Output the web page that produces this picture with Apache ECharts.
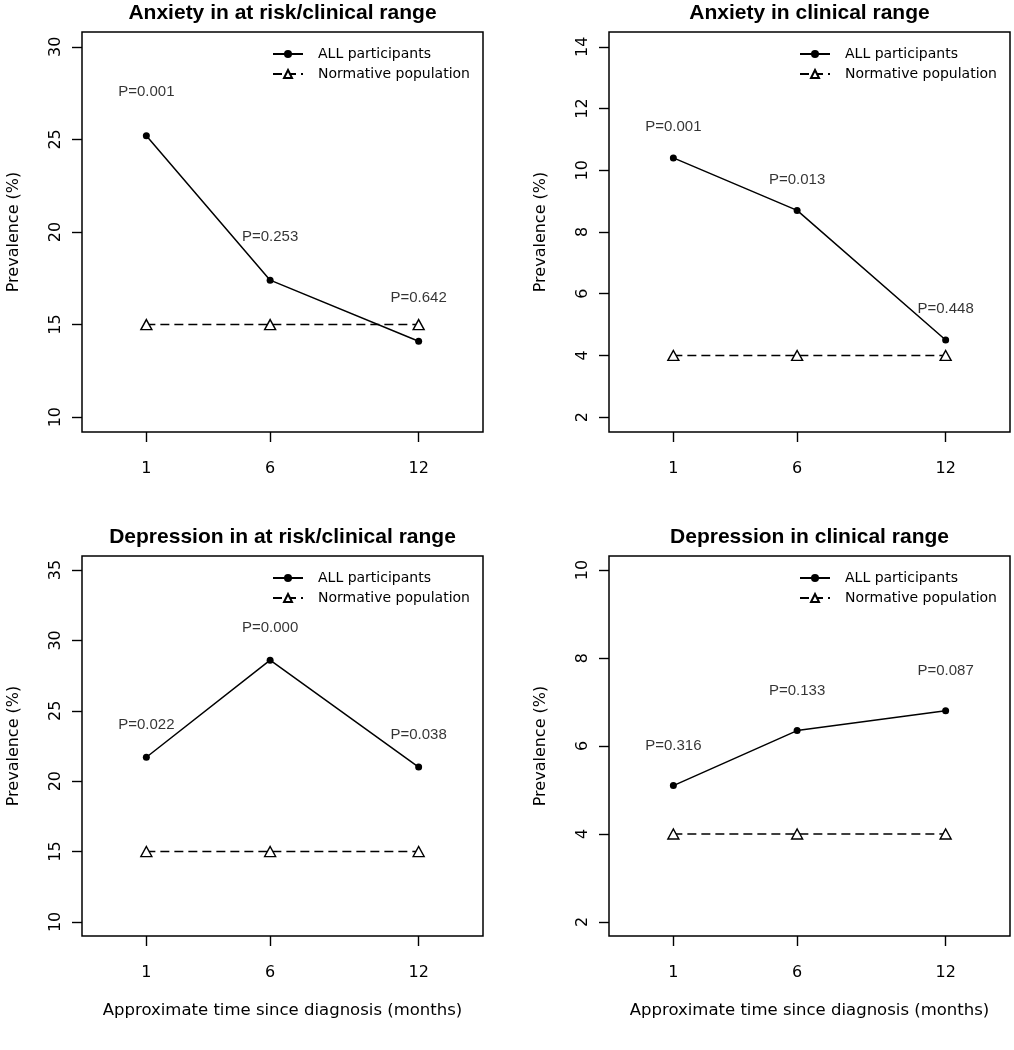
<!DOCTYPE html>
<html>
<head>
<meta charset="utf-8">
<script src="https://cdn.jsdelivr.net/npm/echarts@6/dist/echarts.min.js"></script>
<style>
html,body{margin:0;padding:0;background:#fff;}
#chart{width:1014px;height:1050px;}
</style>
</head>
<body>
<div id="chart"></div>
<script>
// ---- data ----
const months = [1, 6, 12];
const seriesNames = ['ALL participants', 'Normative population'];

const anxRiskTitle = 'Anxiety in at risk/clinical range';
const anxRiskAll = [25.2, 17.4, 14.1];
const anxRiskNorm = [15, 15, 15];
const anxRiskP = ['P=0.001', 'P=0.253', 'P=0.642'];
const anxRiskTicks = [10, 15, 20, 25, 30];

const anxClinTitle = 'Anxiety in clinical range';
const anxClinAll = [10.4, 8.7, 4.5];
const anxClinNorm = [4, 4, 4];
const anxClinP = ['P=0.001', 'P=0.013', 'P=0.448'];
const anxClinTicks = [2, 4, 6, 8, 10, 12, 14];

const depRiskTitle = 'Depression in at risk/clinical range';
const depRiskAll = [21.7, 28.6, 21.0];
const depRiskNorm = [15, 15, 15];
const depRiskP = ['P=0.022', 'P=0.000', 'P=0.038'];
const depRiskTicks = [10, 15, 20, 25, 30, 35];

const depClinTitle = 'Depression in clinical range';
const depClinAll = [5.1, 6.35, 6.8];
const depClinNorm = [4, 4, 4];
const depClinP = ['P=0.316', 'P=0.133', 'P=0.087'];
const depClinTicks = [2, 4, 6, 8, 10];

const xTitle = 'Approximate time since diagnosis (months)';
const yTitle = 'Prevalence (%)';
const xLim = [-1, 14];

// ---- layout ----
const panels = [
  {title: anxRiskTitle, all: anxRiskAll, norm: anxRiskNorm, p: anxRiskP, ticks: anxRiskTicks, pOff: 2.35,
   grid: {left: 82, top: 32, width: 401, height: 400}, xName: false},
  {title: anxClinTitle, all: anxClinAll, norm: anxClinNorm, p: anxClinP, ticks: anxClinTicks, pOff: 1.0,
   grid: {left: 609, top: 32, width: 401, height: 400}, xName: false},
  {title: depRiskTitle, all: depRiskAll, norm: depRiskNorm, p: depRiskP, ticks: depRiskTicks, pOff: 2.3,
   grid: {left: 82, top: 556, width: 401, height: 380}, xName: true},
  {title: depClinTitle, all: depClinAll, norm: depClinNorm, p: depClinP, ticks: depClinTicks, pOff: 0.9,
   grid: {left: 609, top: 556, width: 401, height: 380}, xName: true}
];

function ext(lo, hi) { const d = (hi - lo) * 0.04; return [lo - d, hi + d]; }

const option = {
  backgroundColor: '#fff',
  animation: false,
  title: [], grid: [], xAxis: [], yAxis: [], legend: [], series: []
};

const axisFontBase = {color: '#000', fontFamily: 'DejaVu Sans'};

panels.forEach((pn, i) => {
  const g = pn.grid;
  option.title.push({
    text: pn.title, left: g.left + g.width / 2, textAlign: 'center', top: g.top - 29, padding: 0,
    textStyle: {fontFamily: 'Liberation Sans', fontWeight: 'bold', fontSize: 21, color: '#000'}
  });
  option.grid.push({
    left: g.left, top: g.top, width: g.width, height: g.height, show: true,
    borderColor: '#000', borderWidth: 1.5, backgroundColor: 'transparent', containLabel: false
  });
  const xr = ext(xLim[0], xLim[1]);
  option.xAxis.push({
    type: 'value', gridIndex: i, min: xr[0], max: xr[1],
    axisLine: {show: false, onZero: false},
    splitLine: {show: false},
    axisTick: {show: true, length: 10, customValues: months, lineStyle: {color: '#000', width: 1.4}},
    axisLabel: {show: true, customValues: months, margin: 29, fontSize: 16, ...axisFontBase},
    name: pn.xName ? xTitle : '', nameLocation: 'middle', nameGap: 66,
    nameTextStyle: {fontSize: 16.5, ...axisFontBase}
  });
  const yr = ext(pn.ticks[0], pn.ticks[pn.ticks.length - 1]);
  option.yAxis.push({
    type: 'value', gridIndex: i, min: yr[0], max: yr[1],
    axisLine: {show: false, onZero: false},
    splitLine: {show: false},
    axisTick: {show: true, length: 10, customValues: pn.ticks, lineStyle: {color: '#000', width: 1.4}},
    axisLabel: {show: true, customValues: pn.ticks, rotate: 90, margin: 18, fontSize: 16, ...axisFontBase},
    name: yTitle, nameLocation: 'middle', nameGap: 60,
    nameTextStyle: {fontSize: 16, ...axisFontBase}
  });
  option.legend.push({
    data: seriesNames, orient: 'vertical', left: g.left + 190, top: g.top + 14, padding: 0,
    itemWidth: 30, itemHeight: 10, itemGap: 4, selectedMode: false,
    textStyle: {fontFamily: 'DejaVu Sans', fontSize: 14, color: '#000', lineHeight: 16, padding: [0, 0, 0, 10]}
  });
  option.series.push({
    name: seriesNames[0], type: 'line', xAxisIndex: i, yAxisIndex: i,
    data: months.map((m, k) => [m, pn.all[k]]),
    symbol: 'circle', symbolSize: 7, showSymbol: true,
    itemStyle: {color: '#000'},
    lineStyle: {color: '#000', width: 1.5, type: 'solid'},
    z: 3
  });
  option.series.push({
    name: seriesNames[1], type: 'line', xAxisIndex: i, yAxisIndex: i,
    data: months.map((m, k) => [m, pn.norm[k]]),
    symbol: 'triangle', symbolSize: [11, 10], showSymbol: true,
    itemStyle: {color: '#fff', borderColor: '#000', borderWidth: 1.4},
    lineStyle: {color: '#000', width: 1.5, type: [9, 5]},
    z: 2
  });
  option.series.push({
    name: 'pvalues', type: 'scatter', xAxisIndex: i, yAxisIndex: i,
    data: months.map((m, k) => [m, pn.all[k] + pn.pOff]),
    symbolSize: 1, itemStyle: {color: 'rgba(0,0,0,0)'}, silent: true,
    label: {show: true, position: 'inside', formatter: (prm) => pn.p[prm.dataIndex],
      color: '#000', fontFamily: 'Liberation Sans', fontSize: 15},
    z: 4
  });
});

const chart = echarts.init(document.getElementById('chart'), null, {renderer: 'canvas'});
chart.setOption(option);
</script>
</body>
</html>
